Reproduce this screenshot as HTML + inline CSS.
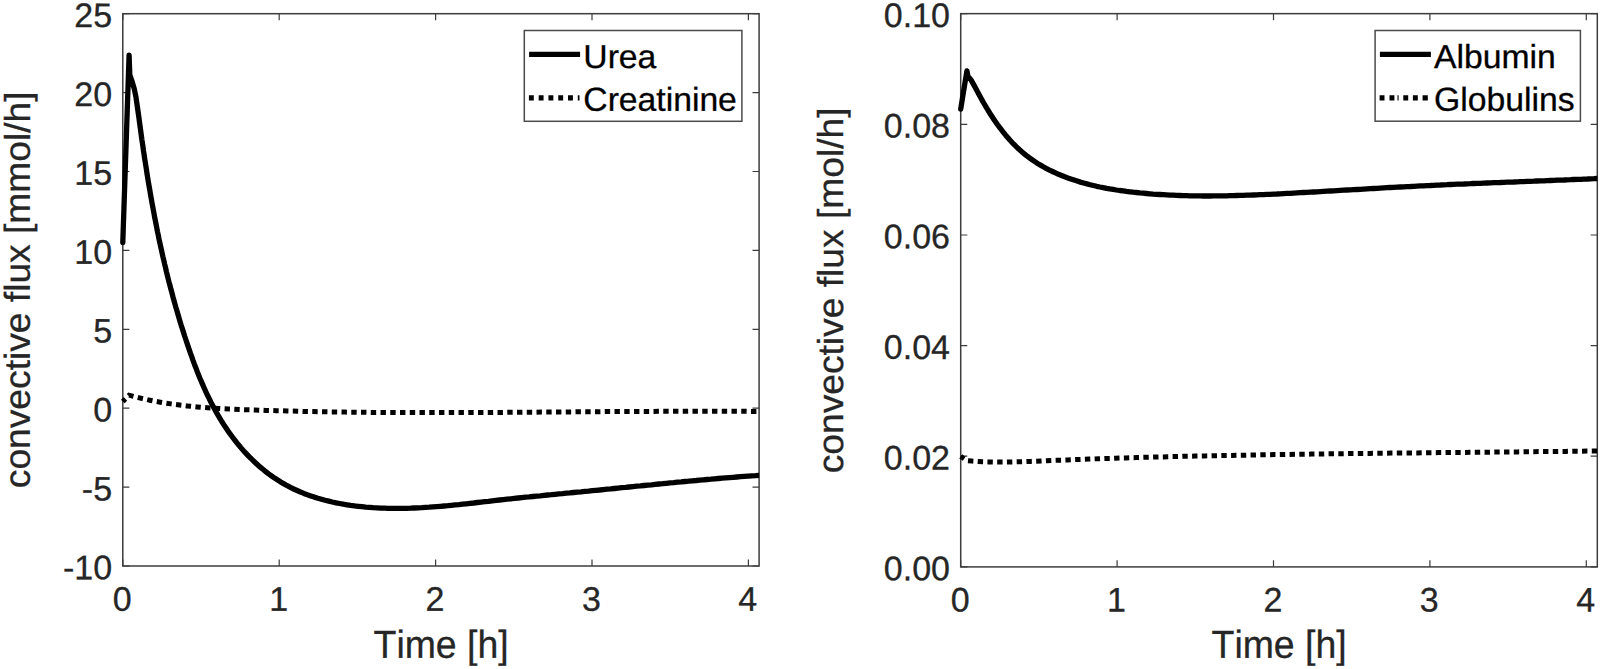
<!DOCTYPE html>
<html><head><meta charset="utf-8"><title>Convective flux</title>
<style>html,body{margin:0;padding:0;background:#fff}svg{display:block}text{font-family:"Liberation Sans",Arial,Helvetica,sans-serif;font-kerning:none}</style>
</head><body>
<svg width="1600" height="669" viewBox="0 0 1600 669">
<rect width="1600" height="669" fill="#fff"/>
<clipPath id="c122"><rect x="117.8" y="13.7" width="641.3000000000001" height="552.3"/></clipPath>
<rect x="122.8" y="13.7" width="636.3000000000001" height="552.3" fill="none" stroke="#3c3c3c" stroke-width="1.5"/>
<path d="M122.8,566.0v-6.6M122.8,13.7v6.6" stroke="#3c3c3c" stroke-width="1.2"/>
<text transform="translate(122.2,610.7) rotate(0.03) scale(1,1.0)" text-anchor="middle" font-size="34.0" fill="#262626" stroke="#262626" stroke-width="0.3">0</text>
<path d="M279.2,566.0v-6.6M279.2,13.7v6.6" stroke="#3c3c3c" stroke-width="1.2"/>
<text transform="translate(278.6,610.7) rotate(0.03) scale(1,1.0)" text-anchor="middle" font-size="34.0" fill="#262626" stroke="#262626" stroke-width="0.3">1</text>
<path d="M435.6,566.0v-6.6M435.6,13.7v6.6" stroke="#3c3c3c" stroke-width="1.2"/>
<text transform="translate(435.0,610.7) rotate(0.03) scale(1,1.0)" text-anchor="middle" font-size="34.0" fill="#262626" stroke="#262626" stroke-width="0.3">2</text>
<path d="M592.0,566.0v-6.6M592.0,13.7v6.6" stroke="#3c3c3c" stroke-width="1.2"/>
<text transform="translate(591.4,610.7) rotate(0.03) scale(1,1.0)" text-anchor="middle" font-size="34.0" fill="#262626" stroke="#262626" stroke-width="0.3">3</text>
<path d="M748.4,566.0v-6.6M748.4,13.7v6.6" stroke="#3c3c3c" stroke-width="1.2"/>
<text transform="translate(747.8,610.7) rotate(0.03) scale(1,1.0)" text-anchor="middle" font-size="34.0" fill="#262626" stroke="#262626" stroke-width="0.3">4</text>
<path d="M122.8,13.7h6.6M759.1,13.7h-6.6" stroke="#3c3c3c" stroke-width="1.2"/>
<text transform="translate(112.1,27.0) rotate(0.03) scale(1,1.0)" text-anchor="end" font-size="34.0" fill="#262626" stroke="#262626" stroke-width="0.3">25</text>
<path d="M122.8,92.6h6.6M759.1,92.6h-6.6" stroke="#3c3c3c" stroke-width="1.2"/>
<text transform="translate(112.1,105.9) rotate(0.03) scale(1,1.0)" text-anchor="end" font-size="34.0" fill="#262626" stroke="#262626" stroke-width="0.3">20</text>
<path d="M122.8,171.5h6.6M759.1,171.5h-6.6" stroke="#3c3c3c" stroke-width="1.2"/>
<text transform="translate(112.1,184.8) rotate(0.03) scale(1,1.0)" text-anchor="end" font-size="34.0" fill="#262626" stroke="#262626" stroke-width="0.3">15</text>
<path d="M122.8,250.4h6.6M759.1,250.4h-6.6" stroke="#3c3c3c" stroke-width="1.2"/>
<text transform="translate(112.1,263.7) rotate(0.03) scale(1,1.0)" text-anchor="end" font-size="34.0" fill="#262626" stroke="#262626" stroke-width="0.3">10</text>
<path d="M122.8,329.3h6.6M759.1,329.3h-6.6" stroke="#3c3c3c" stroke-width="1.2"/>
<text transform="translate(112.1,342.6) rotate(0.03) scale(1,1.0)" text-anchor="end" font-size="34.0" fill="#262626" stroke="#262626" stroke-width="0.3">5</text>
<path d="M122.8,408.2h6.6M759.1,408.2h-6.6" stroke="#3c3c3c" stroke-width="1.2"/>
<text transform="translate(112.1,421.5) rotate(0.03) scale(1,1.0)" text-anchor="end" font-size="34.0" fill="#262626" stroke="#262626" stroke-width="0.3">0</text>
<path d="M122.8,487.1h6.6M759.1,487.1h-6.6" stroke="#3c3c3c" stroke-width="1.2"/>
<text transform="translate(112.1,500.4) rotate(0.03) scale(1,1.0)" text-anchor="end" font-size="34.0" fill="#262626" stroke="#262626" stroke-width="0.3">-5</text>
<path d="M122.8,566.0h6.6M759.1,566.0h-6.6" stroke="#3c3c3c" stroke-width="1.2"/>
<text transform="translate(112.1,579.3) rotate(0.03) scale(1,1.0)" text-anchor="end" font-size="34.0" fill="#262626" stroke="#262626" stroke-width="0.3">-10</text>
<text transform="translate(441.1,657.8) rotate(0.03) scale(1,1.04)" text-anchor="middle" font-size="37.4" fill="#262626" stroke="#262626" stroke-width="0.3">Time [h]</text>
<text transform="translate(29.8,289.8) rotate(-89.97) scale(1,0.97)" text-anchor="middle" font-size="37.2" fill="#262626" stroke="#262626" stroke-width="0.3">convective flux [mmol/h]</text>
<g clip-path="url(#c122)" fill="none" stroke="#000">
<polyline points="122.8,401.5 129.1,395.2 134.3,396.6 139.5,397.9 144.7,399.1 149.9,400.2 155.1,401.3 160.3,402.2 165.6,403.1 170.8,403.9 176.1,404.6 181.3,405.3 186.6,405.9 191.8,406.4 197.1,406.9 202.3,407.4 207.6,407.8 212.9,408.1 218.2,408.4 223.4,408.7 228.7,409.0 234.0,409.2 239.3,409.5 244.6,409.7 249.9,409.8 255.1,410.0 260.4,410.2 265.7,410.4 271.0,410.5 276.3,410.7 281.6,410.8 286.9,411.0 292.2,411.1 297.5,411.2 302.8,411.4 308.1,411.5 313.4,411.6 318.7,411.7 324.0,411.8 329.3,411.9 334.6,411.9 339.9,412.0 345.2,412.1 350.5,412.2 355.8,412.2 361.1,412.3 366.4,412.3 371.7,412.4 377.0,412.4 382.3,412.5 387.6,412.5 392.9,412.5 398.2,412.6 403.5,412.6 408.9,412.6 414.2,412.6 419.5,412.6 424.8,412.6 430.1,412.6 435.4,412.6 440.7,412.6 446.0,412.6 451.3,412.6 456.7,412.6 462.0,412.6 467.3,412.6 472.6,412.5 477.9,412.5 483.2,412.5 488.5,412.5 493.8,412.4 499.2,412.4 504.5,412.4 509.8,412.3 515.1,412.3 520.4,412.3 525.7,412.2 531.0,412.2 536.4,412.2 541.7,412.1 547.0,412.1 552.3,412.0 557.6,412.0 562.9,412.0 568.2,411.9 573.5,411.9 578.8,411.8 584.2,411.8 589.5,411.8 594.8,411.7 600.1,411.7 605.4,411.6 610.7,411.6 616.0,411.6 621.3,411.5 626.6,411.5 631.9,411.5 637.2,411.4 642.6,411.4 647.9,411.4 653.2,411.4 658.5,411.3 663.8,411.3 669.1,411.3 674.4,411.3 679.7,411.3 685.0,411.3 690.3,411.2 695.6,411.2 700.9,411.2 706.2,411.2 711.5,411.2 716.8,411.2 722.1,411.3 727.4,411.3 732.6,411.3 737.9,411.3 743.2,411.3 748.5,411.4 753.8,411.4 759.1,411.4" stroke-width="5.0" stroke-dasharray="5.4 4.35" stroke-dashoffset="1.7"/>
<polyline points="122.8,242.5 129.1,55.2 129.8,75.0 131.8,80.6 134.3,89.0 136.0,97.3 138.4,114.0 138.9,117.7 139.4,121.4 139.9,125.1 140.4,128.7 140.9,132.4 141.4,136.1 141.9,139.8 142.5,143.5 143.0,147.2 143.5,150.9 144.1,154.6 144.6,158.3 145.2,161.9 145.8,165.6 146.4,169.3 146.9,173.0 147.5,176.7 148.1,180.4 148.7,184.1 149.4,187.7 150.0,191.4 150.6,195.1 151.3,198.8 151.9,202.4 152.6,206.1 153.3,209.8 154.0,213.4 154.6,217.1 155.4,220.7 156.1,224.4 156.8,228.0 157.5,231.7 158.3,235.3 159.0,239.0 159.8,242.6 160.6,246.2 161.4,249.9 162.2,253.5 163.0,257.1 163.9,260.7 164.7,264.3 165.6,267.9 166.4,271.6 167.3,275.2 168.2,278.8 169.1,282.4 170.1,286.0 171.0,289.6 172.0,293.1 172.9,296.7 173.9,300.3 174.9,303.9 175.9,307.5 177.0,311.0 178.0,314.6 179.1,318.2 180.1,321.7 181.2,325.3 182.4,328.9 183.5,332.4 184.6,336.0 185.8,339.5 187.0,343.1 188.2,346.6 189.4,350.1 190.6,353.7 191.9,357.2 193.1,360.7 194.4,364.2 195.8,367.7 197.1,371.2 198.5,374.7 199.9,378.2 201.4,381.6 202.9,385.1 204.4,388.5 205.9,391.9 207.5,395.3 209.2,398.6 210.8,402.0 212.6,405.3 214.3,408.6 216.1,411.9 218.0,415.1 219.9,418.3 221.8,421.5 223.8,424.7 225.9,427.8 228.0,430.9 230.2,434.0 232.4,437.0 234.6,439.9 236.9,442.9 239.3,445.8 241.7,448.6 244.2,451.4 246.7,454.1 249.3,456.8 251.9,459.4 254.6,462.0 257.3,464.5 260.0,466.9 262.9,469.3 265.7,471.6 268.6,473.9 271.6,476.0 274.6,478.1 277.7,480.1 280.8,482.1 284.0,483.9 287.2,485.7 290.4,487.4 293.7,489.0 297.1,490.5 300.5,492.0 303.9,493.4 307.3,494.7 310.8,495.9 314.3,497.1 317.9,498.2 321.5,499.2 325.1,500.2 328.7,501.1 332.3,502.0 336.0,502.8 339.6,503.5 343.3,504.2 347.0,504.8 350.7,505.4 354.5,505.9 358.2,506.3 361.9,506.7 365.7,507.1 369.4,507.4 373.2,507.7 376.9,507.9 380.6,508.1 384.4,508.2 388.1,508.3 391.9,508.4 395.6,508.4 399.4,508.4 403.1,508.3 406.9,508.3 410.6,508.2 414.3,508.0 418.1,507.8 421.8,507.7 425.5,507.4 429.2,507.2 432.9,506.9 436.7,506.6 440.4,506.3 444.1,506.0 447.8,505.7 451.5,505.3 455.2,504.9 458.9,504.6 462.6,504.2 466.3,503.8 470.0,503.4 473.7,503.0 477.4,502.5 481.1,502.1 484.8,501.7 488.5,501.3 492.2,500.8 495.9,500.4 499.6,500.0 503.3,499.6 507.0,499.2 510.7,498.8 514.4,498.4 518.1,498.0 521.8,497.6 525.5,497.2 529.2,496.9 532.9,496.5 536.6,496.1 540.3,495.8 544.0,495.4 547.7,495.0 551.4,494.7 555.1,494.3 558.8,493.9 562.5,493.6 566.2,493.2 569.9,492.9 573.6,492.5 577.3,492.1 581.1,491.8 584.8,491.4 588.5,491.1 592.2,490.7 595.9,490.3 599.6,490.0 603.3,489.6 607.0,489.2 610.7,488.9 614.4,488.5 618.1,488.1 621.8,487.7 625.5,487.4 629.2,487.0 632.9,486.6 636.7,486.2 640.4,485.9 644.1,485.5 647.8,485.1 651.5,484.8 655.2,484.4 658.9,484.0 662.6,483.7 666.3,483.3 670.0,482.9 673.7,482.6 677.5,482.2 681.2,481.9 684.9,481.5 688.6,481.2 692.3,480.8 696.0,480.5 699.7,480.1 703.4,479.8 707.1,479.5 710.9,479.2 714.6,478.8 718.3,478.5 722.0,478.2 725.7,477.9 729.4,477.6 733.1,477.3 736.8,477.0 740.5,476.7 744.3,476.4 748.0,476.1 751.7,475.8 755.4,475.6 759.1,475.3" stroke-width="5.3" stroke-linejoin="round" stroke-linecap="round"/>
</g>
<rect x="524.3" y="30.5" width="217.60000000000002" height="90.8" fill="#fff" stroke="#4a4a4a" stroke-width="1.5"/>
<path d="M529.1,54.4h51" stroke="#000" stroke-width="5.2"/>
<path d="M528.9,97.9h50.6" stroke="#000" stroke-width="5.1" stroke-dasharray="4.9 4.88"/>
<text transform="translate(583.3,67.9) rotate(0.03) scale(1,0.985)" text-anchor="start" font-size="33.7" fill="#000" stroke="#000" stroke-width="0.3">Urea</text>
<text transform="translate(583.3,110.7) rotate(0.03) scale(1,0.985)" text-anchor="start" font-size="33.7" fill="#000" stroke="#000" stroke-width="0.3">Creatinine</text>
<clipPath id="c960"><rect x="955.7" y="13.65" width="641.5999999999999" height="553.25"/></clipPath>
<rect x="960.7" y="13.65" width="636.5999999999999" height="553.25" fill="none" stroke="#3c3c3c" stroke-width="1.5"/>
<path d="M960.7,566.9v-6.6M960.7,13.65v6.6" stroke="#3c3c3c" stroke-width="1.2"/>
<text transform="translate(960.1,611.6) rotate(0.03) scale(1,1.0)" text-anchor="middle" font-size="34.0" fill="#262626" stroke="#262626" stroke-width="0.3">0</text>
<path d="M1117.1,566.9v-6.6M1117.1,13.65v6.6" stroke="#3c3c3c" stroke-width="1.2"/>
<text transform="translate(1116.5,611.6) rotate(0.03) scale(1,1.0)" text-anchor="middle" font-size="34.0" fill="#262626" stroke="#262626" stroke-width="0.3">1</text>
<path d="M1273.5,566.9v-6.6M1273.5,13.65v6.6" stroke="#3c3c3c" stroke-width="1.2"/>
<text transform="translate(1272.9,611.6) rotate(0.03) scale(1,1.0)" text-anchor="middle" font-size="34.0" fill="#262626" stroke="#262626" stroke-width="0.3">2</text>
<path d="M1429.9,566.9v-6.6M1429.9,13.65v6.6" stroke="#3c3c3c" stroke-width="1.2"/>
<text transform="translate(1429.3,611.6) rotate(0.03) scale(1,1.0)" text-anchor="middle" font-size="34.0" fill="#262626" stroke="#262626" stroke-width="0.3">3</text>
<path d="M1586.3,566.9v-6.6M1586.3,13.65v6.6" stroke="#3c3c3c" stroke-width="1.2"/>
<text transform="translate(1585.7,611.6) rotate(0.03) scale(1,1.0)" text-anchor="middle" font-size="34.0" fill="#262626" stroke="#262626" stroke-width="0.3">4</text>
<path d="M960.7,13.7h6.6M1597.3,13.7h-6.6" stroke="#3c3c3c" stroke-width="1.2"/>
<text transform="translate(950.0,27.0) rotate(0.03) scale(1,1.0)" text-anchor="end" font-size="34.0" fill="#262626" stroke="#262626" stroke-width="0.3">0.10</text>
<path d="M960.7,124.3h6.6M1597.3,124.3h-6.6" stroke="#3c3c3c" stroke-width="1.2"/>
<text transform="translate(950.0,137.6) rotate(0.03) scale(1,1.0)" text-anchor="end" font-size="34.0" fill="#262626" stroke="#262626" stroke-width="0.3">0.08</text>
<path d="M960.7,235.0h6.6M1597.3,235.0h-6.6" stroke="#3c3c3c" stroke-width="1.2"/>
<text transform="translate(950.0,248.3) rotate(0.03) scale(1,1.0)" text-anchor="end" font-size="34.0" fill="#262626" stroke="#262626" stroke-width="0.3">0.06</text>
<path d="M960.7,345.6h6.6M1597.3,345.6h-6.6" stroke="#3c3c3c" stroke-width="1.2"/>
<text transform="translate(950.0,358.9) rotate(0.03) scale(1,1.0)" text-anchor="end" font-size="34.0" fill="#262626" stroke="#262626" stroke-width="0.3">0.04</text>
<path d="M960.7,456.2h6.6M1597.3,456.2h-6.6" stroke="#3c3c3c" stroke-width="1.2"/>
<text transform="translate(950.0,469.6) rotate(0.03) scale(1,1.0)" text-anchor="end" font-size="34.0" fill="#262626" stroke="#262626" stroke-width="0.3">0.02</text>
<path d="M960.7,566.9h6.6M1597.3,566.9h-6.6" stroke="#3c3c3c" stroke-width="1.2"/>
<text transform="translate(950.0,580.2) rotate(0.03) scale(1,1.0)" text-anchor="end" font-size="34.0" fill="#262626" stroke="#262626" stroke-width="0.3">0.00</text>
<text transform="translate(1279.1,657.8) rotate(0.03) scale(1,1.04)" text-anchor="middle" font-size="37.4" fill="#262626" stroke="#262626" stroke-width="0.3">Time [h]</text>
<text transform="translate(843.0,290.4) rotate(-89.97) scale(1,0.97)" text-anchor="middle" font-size="37.2" fill="#262626" stroke="#262626" stroke-width="0.3">convective flux [mol/h]</text>
<g clip-path="url(#c960)" fill="none" stroke="#000">
<polyline points="960.7,456.4 967.0,460.6 972.3,461.1 977.6,461.4 982.9,461.7 988.2,461.9 993.4,462.0 998.7,462.1 1004.0,462.1 1009.3,462.0 1014.6,461.9 1019.9,461.8 1025.2,461.6 1030.5,461.4 1035.8,461.2 1041.1,461.0 1046.4,460.7 1051.7,460.5 1057.0,460.3 1062.2,460.1 1067.5,459.9 1072.8,459.7 1078.1,459.5 1083.4,459.3 1088.7,459.1 1094.0,458.9 1099.3,458.7 1104.6,458.5 1109.9,458.4 1115.2,458.2 1120.5,458.0 1125.8,457.9 1131.1,457.7 1136.4,457.6 1141.7,457.4 1147.0,457.3 1152.3,457.1 1157.6,457.0 1162.9,456.9 1168.2,456.7 1173.5,456.6 1178.7,456.5 1184.0,456.3 1189.3,456.2 1194.6,456.1 1199.9,456.0 1205.2,455.9 1210.5,455.8 1215.8,455.7 1221.1,455.6 1226.4,455.5 1231.7,455.4 1237.0,455.3 1242.3,455.2 1247.6,455.1 1252.9,455.0 1258.2,454.9 1263.5,454.8 1268.8,454.7 1274.1,454.6 1279.4,454.6 1284.7,454.5 1290.0,454.4 1295.3,454.3 1300.6,454.2 1305.9,454.2 1311.2,454.1 1316.5,454.0 1321.8,454.0 1327.1,453.9 1332.4,453.8 1337.7,453.7 1343.0,453.7 1348.3,453.6 1353.6,453.6 1358.9,453.5 1364.2,453.4 1369.5,453.4 1374.8,453.3 1380.1,453.2 1385.4,453.2 1390.7,453.1 1396.0,453.1 1401.3,453.0 1406.6,453.0 1411.9,452.9 1417.2,452.9 1422.5,452.8 1427.8,452.7 1433.1,452.7 1438.4,452.6 1443.7,452.6 1449.0,452.5 1454.3,452.5 1459.6,452.4 1464.9,452.4 1470.2,452.3 1475.5,452.3 1480.8,452.2 1486.1,452.2 1491.4,452.1 1496.7,452.1 1502.0,452.0 1507.3,452.0 1512.5,451.9 1517.8,451.9 1523.1,451.8 1528.4,451.7 1533.7,451.7 1539.0,451.6 1544.3,451.6 1549.6,451.5 1554.9,451.5 1560.2,451.4 1565.5,451.4 1570.8,451.3 1576.1,451.2 1581.4,451.2 1586.7,451.1 1592.0,451.1 1597.3,451.0" stroke-width="5.0" stroke-dasharray="5.4 4.35" stroke-dashoffset="1.2"/>
<polyline points="960.7,109.2 966.9,70.8 967.9,76.1 971.0,79.9 975.1,87.1 976.6,90.0 978.1,92.9 979.7,95.8 981.3,98.7 982.9,101.6 984.6,104.5 986.3,107.4 988.1,110.3 989.8,113.2 991.7,116.0 993.5,118.9 995.5,121.7 997.4,124.5 999.4,127.2 1001.5,129.9 1003.6,132.6 1005.7,135.2 1007.9,137.8 1010.1,140.3 1012.4,142.8 1014.8,145.2 1017.1,147.5 1019.6,149.8 1022.1,152.0 1024.6,154.1 1027.2,156.2 1029.8,158.1 1032.5,160.0 1035.3,161.9 1038.0,163.7 1040.9,165.4 1043.7,167.0 1046.6,168.6 1049.5,170.1 1052.5,171.5 1055.5,172.9 1058.5,174.3 1061.6,175.5 1064.7,176.8 1067.8,177.9 1070.9,179.0 1074.1,180.1 1077.2,181.1 1080.4,182.1 1083.6,183.0 1086.9,183.9 1090.1,184.7 1093.4,185.5 1096.6,186.3 1099.9,187.0 1103.2,187.6 1106.5,188.3 1109.8,188.9 1113.1,189.4 1116.4,190.0 1119.7,190.5 1123.1,190.9 1126.4,191.4 1129.8,191.8 1133.1,192.2 1136.4,192.5 1139.8,192.9 1143.1,193.2 1146.5,193.5 1149.8,193.8 1153.2,194.1 1156.5,194.3 1159.9,194.5 1163.2,194.7 1166.6,194.9 1169.9,195.1 1173.2,195.2 1176.6,195.4 1179.9,195.5 1183.3,195.6 1186.6,195.7 1190.0,195.8 1193.3,195.8 1196.6,195.9 1200.0,195.9 1203.3,196.0 1206.7,196.0 1210.0,196.0 1213.4,195.9 1216.7,195.9 1220.0,195.9 1223.4,195.8 1226.7,195.8 1230.1,195.7 1233.4,195.6 1236.7,195.5 1240.1,195.4 1243.4,195.3 1246.8,195.2 1250.1,195.1 1253.4,195.0 1256.8,194.9 1260.1,194.7 1263.5,194.6 1266.8,194.4 1270.1,194.3 1273.5,194.1 1276.8,194.0 1280.1,193.8 1283.5,193.6 1286.8,193.4 1290.2,193.3 1293.5,193.1 1296.8,192.9 1300.2,192.7 1303.5,192.5 1306.8,192.4 1310.2,192.2 1313.5,192.0 1316.9,191.8 1320.2,191.6 1323.5,191.4 1326.9,191.2 1330.2,191.0 1333.5,190.8 1336.9,190.6 1340.2,190.4 1343.5,190.2 1346.9,190.0 1350.2,189.9 1353.6,189.7 1356.9,189.5 1360.2,189.3 1363.6,189.1 1366.9,188.9 1370.2,188.7 1373.6,188.5 1376.9,188.3 1380.2,188.1 1383.6,187.9 1386.9,187.7 1390.2,187.5 1393.6,187.4 1396.9,187.2 1400.3,187.0 1403.6,186.8 1406.9,186.6 1410.3,186.5 1413.6,186.3 1416.9,186.1 1420.3,185.9 1423.6,185.8 1426.9,185.6 1430.3,185.5 1433.6,185.3 1437.0,185.1 1440.3,185.0 1443.6,184.8 1447.0,184.7 1450.3,184.5 1453.6,184.4 1457.0,184.2 1460.3,184.1 1463.7,184.0 1467.0,183.8 1470.3,183.7 1473.7,183.5 1477.0,183.4 1480.3,183.3 1483.7,183.1 1487.0,183.0 1490.4,182.9 1493.7,182.7 1497.0,182.6 1500.4,182.5 1503.7,182.3 1507.1,182.2 1510.4,182.1 1513.7,182.0 1517.1,181.8 1520.4,181.7 1523.8,181.6 1527.1,181.4 1530.4,181.3 1533.8,181.2 1537.1,181.0 1540.5,180.9 1543.8,180.8 1547.1,180.6 1550.5,180.5 1553.8,180.4 1557.2,180.2 1560.5,180.1 1563.9,180.0 1567.2,179.8 1570.5,179.7 1573.9,179.5 1577.2,179.4 1580.6,179.3 1583.9,179.1 1587.3,179.0 1590.6,178.8 1594.0,178.7 1597.3,178.5" stroke-width="5.3" stroke-linejoin="round" stroke-linecap="round"/>
</g>
<rect x="1375.1" y="30.5" width="205.30000000000018" height="90.7" fill="#fff" stroke="#4a4a4a" stroke-width="1.5"/>
<path d="M1379.9,54.4h51" stroke="#000" stroke-width="5.2"/>
<path d="M1379.6,97.9h4.9M1389.5,97.9h4.9M1397.5,97.9h1.1M1403.3,97.9h4.9M1412.9,97.9h4.9M1422.6,97.9h5.2" stroke="#000" stroke-width="5.1"/>
<text transform="translate(1434.1,67.9) rotate(0.03) scale(1,0.985)" text-anchor="start" font-size="33.7" fill="#000" stroke="#000" stroke-width="0.3">Albumin</text>
<text transform="translate(1434.1,110.7) rotate(0.03) scale(1,0.985)" text-anchor="start" font-size="33.7" fill="#000" stroke="#000" stroke-width="0.3">Globulins</text>
</svg>
</body></html>
